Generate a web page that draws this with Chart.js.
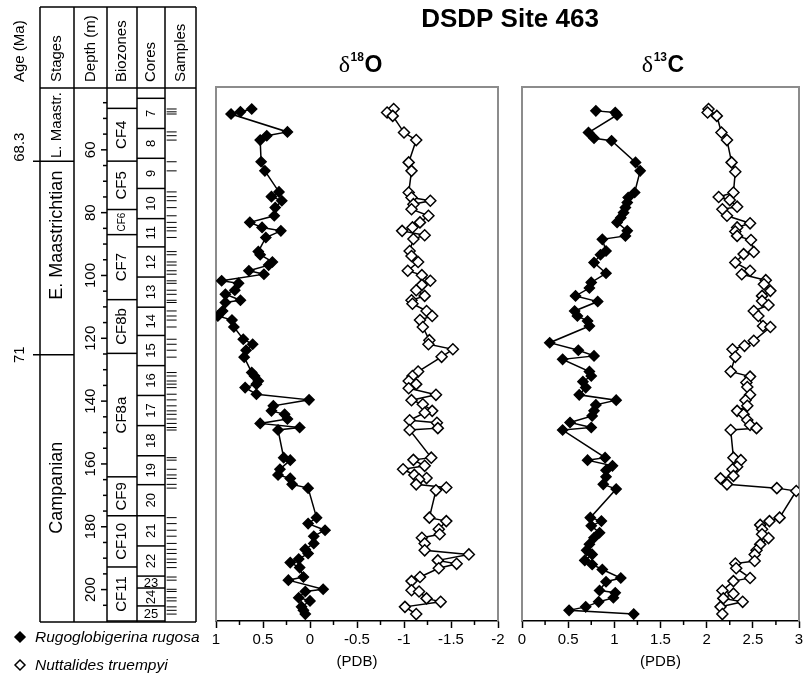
<!DOCTYPE html>
<html>
<head>
<meta charset="utf-8">
<script src="https://cdn.jsdelivr.net/npm/chart.js@4"></script>
<style>
  body { margin: 0; background: #fff; }
  #wrap { position: relative; width: 806px; height: 679px; }
  #wrap canvas { position: absolute; left: 0; top: 0; }
</style>
</head>
<body>
<div id="wrap">
  <canvas id="column" width="806" height="679"></canvas>
  <canvas id="chartO" width="806" height="679"></canvas>
  <canvas id="chartC" width="806" height="679"></canvas>
</div>
<script>
// depth (m) and isotope values
const rugO_depth = [47.0, 47.9, 48.6, 54.3, 55.5, 56.9, 63.8, 66.7, 73.4, 74.9, 76.2, 78.4, 81.0, 83.1, 84.7, 85.8, 87.9, 92.4, 93.4, 95.7, 96.7, 98.5, 99.6, 101.7, 102.5, 104.7, 106.0, 107.9, 108.6, 111.3, 112.9, 114.2, 116.4, 120.3, 121.9, 123.8, 126.0, 130.9, 132.0, 133.6, 134.6, 135.7, 137.8, 139.6, 141.5, 143.1, 144.2, 145.7, 147.1, 148.4, 149.2, 158.0, 158.8, 161.7, 163.5, 164.6, 166.5, 167.7, 177.1, 179.0, 181.1, 183.0, 185.3, 187.2, 188.5, 190.3, 191.4, 193.0, 196.0, 197.0, 199.9, 200.6, 202.6, 203.6, 205.5, 206.6, 207.8];
const rugO_val = [0.62, 0.74, 0.84, 0.24, 0.46, 0.53, 0.52, 0.48, 0.33, 0.41, 0.30, 0.37, 0.38, 0.64, 0.51, 0.31, 0.47, 0.55, 0.53, 0.40, 0.44, 0.65, 0.49, 0.94, 0.76, 0.80, 0.90, 0.74, 0.90, 0.93, 0.98, 0.83, 0.81, 0.71, 0.61, 0.68, 0.70, 0.62, 0.59, 0.55, 0.57, 0.69, 0.57, 0.01, 0.39, 0.41, 0.27, 0.24, 0.53, 0.11, 0.34, 0.28, 0.21, 0.32, 0.34, 0.21, 0.19, 0.02, -0.07, 0.02, -0.16, -0.04, -0.04, 0.05, 0.02, 0.12, 0.21, 0.11, 0.07, 0.23, -0.14, 0.05, 0.12, 0.00, 0.09, 0.07, 0.05];

const nutO_depth = [47.0, 48.1, 49.2, 54.5, 56.9, 64.0, 66.7, 73.6, 75.2, 76.2, 77.3, 78.9, 81.0, 83.1, 84.7, 85.8, 87.2, 88.4, 92.2, 93.8, 95.7, 98.5, 99.9, 101.7, 103.0, 104.7, 106.5, 107.9, 109.0, 111.3, 112.9, 114.2, 116.4, 120.6, 121.9, 123.5, 125.9, 130.6, 132.0, 133.6, 134.6, 135.9, 138.0, 139.7, 141.0, 143.1, 143.7, 146.1, 146.9, 148.6, 149.2, 158.0, 158.7, 160.6, 161.7, 163.5, 164.5, 164.9, 166.5, 167.5, 168.4, 177.1, 178.2, 180.8, 182.4, 183.5, 185.3, 187.5, 188.8, 190.7, 191.8, 193.2, 196.0, 197.3, 200.2, 200.6, 202.8, 203.9, 205.5, 207.8];
const nutO_val = [-0.89, -0.82, -0.88, -1.00, -1.13, -1.05, -1.08, -1.05, -1.08, -1.28, -1.10, -1.08, -1.26, -1.17, -1.09, -0.98, -1.22, -1.10, -1.06, -1.08, -1.15, -1.04, -1.19, -1.28, -1.19, -1.13, -1.22, -1.08, -1.09, -1.24, -1.30, -1.17, -1.20, -1.27, -1.26, -1.52, -1.40, -1.15, -1.09, -1.05, -1.13, -1.05, -1.34, -1.08, -1.20, -1.30, -1.22, -1.06, -1.35, -1.36, -1.06, -1.29, -1.10, -1.22, -0.99, -1.11, -1.24, -1.16, -1.13, -1.45, -1.34, -1.27, -1.45, -1.37, -1.38, -1.19, -1.22, -1.22, -1.69, -1.36, -1.56, -1.37, -1.17, -1.08, -1.08, -1.16, -1.24, -1.39, -1.01, -1.13];

const rugC_depth = [47.6, 48.1, 48.9, 54.5, 56.3, 57.1, 64.0, 66.7, 73.6, 75.2, 76.8, 78.4, 80.0, 81.6, 83.1, 85.8, 87.4, 88.5, 92.2, 93.4, 95.9, 99.3, 102.2, 104.0, 106.5, 108.3, 111.3, 112.9, 114.5, 116.1, 121.4, 123.8, 125.6, 126.7, 130.6, 132.0, 133.8, 135.7, 138.0, 139.7, 141.2, 143.1, 144.7, 146.8, 148.4, 149.2, 158.0, 158.8, 160.6, 162.0, 164.1, 166.5, 168.0, 177.1, 178.2, 179.7, 181.9, 183.5, 185.6, 187.5, 188.8, 190.7, 192.0, 193.6, 196.3, 197.5, 200.3, 201.0, 202.6, 203.9, 205.5, 206.6, 207.8];
const rugC_val = [0.80, 1.01, 1.03, 0.72, 0.78, 0.97, 1.23, 1.28, 1.22, 1.15, 1.14, 1.12, 1.10, 1.07, 1.03, 1.14, 1.12, 0.87, 0.91, 0.85, 0.78, 0.91, 0.75, 0.73, 0.58, 0.82, 0.57, 0.60, 0.71, 0.73, 0.30, 0.61, 0.78, 0.44, 0.73, 0.75, 0.66, 0.69, 0.62, 1.02, 0.80, 0.78, 0.76, 0.52, 0.75, 0.44, 0.90, 0.71, 0.98, 0.91, 0.91, 0.88, 1.02, 0.74, 0.86, 0.75, 0.84, 0.78, 0.73, 0.70, 0.76, 0.68, 0.76, 0.87, 1.07, 0.91, 0.84, 1.01, 0.99, 0.83, 0.69, 0.51, 1.21];

const nutC_depth = [47.0, 48.1, 49.2, 54.5, 56.9, 64.0, 67.0, 73.6, 75.0, 76.0, 78.1, 78.9, 81.0, 83.4, 84.7, 86.0, 87.4, 88.7, 92.5, 93.2, 95.9, 98.5, 99.6, 101.5, 102.8, 104.9, 106.5, 108.1, 109.4, 111.3, 112.9, 116.1, 116.4, 120.8, 122.4, 123.5, 125.9, 130.6, 132.2, 134.1, 135.5, 138.0, 139.7, 141.5, 143.1, 144.2, 146.0, 147.6, 148.6, 149.2, 158.0, 158.8, 160.9, 161.7, 163.8, 164.6, 166.5, 167.7, 168.6, 177.1, 178.2, 179.4, 180.8, 182.4, 183.6, 185.6, 187.5, 188.8, 190.9, 191.7, 193.2, 196.3, 197.3, 200.3, 201.3, 202.8, 203.9, 205.5, 207.8];
const nutC_val = [2.02, 2.01, 2.11, 2.16, 2.22, 2.27, 2.31, 2.29, 2.13, 2.25, 2.33, 2.17, 2.22, 2.47, 2.33, 2.31, 2.33, 2.48, 2.51, 2.40, 2.31, 2.47, 2.38, 2.64, 2.62, 2.69, 2.60, 2.60, 2.67, 2.51, 2.56, 2.61, 2.69, 2.51, 2.41, 2.28, 2.31, 2.26, 2.47, 2.43, 2.44, 2.47, 2.42, 2.44, 2.33, 2.40, 2.44, 2.47, 2.54, 2.26, 2.29, 2.37, 2.33, 2.28, 2.29, 2.15, 2.22, 2.76, 2.97, 2.79, 2.68, 2.58, 2.60, 2.60, 2.67, 2.58, 2.54, 2.52, 2.52, 2.31, 2.32, 2.47, 2.29, 2.17, 2.29, 2.18, 2.39, 2.15, 2.17];

// stratigraphy (depth boundaries in m)
const stageNames = ["L. Maastr.", "E. Maastrichtian", "Campanian"];
const stageBounds = [40, 63.6, 125.2, 210];
const ageLabels = ["68.3", "71"];
const ageDepths = [63.6, 125.2];
const zoneNames = ["CF4", "CF5", "CF6", "CF7", "CF8b", "CF8a", "CF9", "CF10", "CF11"];
const zoneBounds = [46.8, 63.6, 79, 87, 107.7, 124.8, 164.1, 176.5, 192.8, 210];
const coreNames = ["7", "8", "9", "10", "11", "12", "13", "14", "15", "16", "17", "18", "19", "20", "21", "22", "23", "24", "25"];
const coreBounds = [43.6, 53.2, 62.7, 72.3, 81.9, 90.9, 100.5, 110.1, 119.1, 128.7, 138.2, 147.8, 157.4, 166.6, 176.5, 186.1, 195.7, 199.5, 205.2, 210];
const depthLabels = [60, 80, 100, 120, 140, 160, 180, 200];
const minorO = [0.75, 0.25, -0.25, -0.75, -1.25, -1.75];
const minorC = [0.25, 0.75, 1.25, 1.75, 2.25, 2.75];

const FONT = '"Liberation Sans", Arial, Helvetica, sans-serif';
Chart.defaults.font.family = FONT;
Chart.defaults.color = "#000";

const colX = [40, 74, 107, 137, 165, 196];

function hline(ctx, x1, x2, y) { ctx.beginPath(); ctx.moveTo(x1, y); ctx.lineTo(x2, y); ctx.stroke(); }
function vline(ctx, x, y1, y2) { ctx.beginPath(); ctx.moveTo(x, y1); ctx.lineTo(x, y2); ctx.stroke(); }
function vtext(ctx, t, x, y, font, align) {
  ctx.save();
  ctx.translate(x, y);
  ctx.rotate(-Math.PI / 2);
  ctx.font = font;
  ctx.textAlign = align || "center";
  ctx.textBaseline = "middle";
  ctx.fillText(t, 0, 0);
  ctx.restore();
}
function diamond(ctx, x, y, r, fill) {
  ctx.beginPath();
  ctx.moveTo(x, y - r); ctx.lineTo(x + r, y); ctx.lineTo(x, y + r); ctx.lineTo(x - r, y); ctx.closePath();
  ctx.fillStyle = fill; ctx.fill();
  ctx.lineWidth = 1.5; ctx.strokeStyle = "#000"; ctx.stroke();
}

const columnPlugin = {
  id: "column",
  afterDraw(chart) {
    const ctx = chart.ctx;
    const Y = v => chart.scales.y.getPixelForValue(v);
    const top = 7, head = 88, bottom = Y(210) + 1;
    ctx.save();
    ctx.strokeStyle = "#000";
    ctx.fillStyle = "#000";
    ctx.lineWidth = 1.5;

    // table frame
    hline(ctx, colX[0], colX[5], top);
    hline(ctx, colX[0], colX[5], head);
    hline(ctx, colX[0], colX[5], bottom);
    colX.forEach(x => vline(ctx, x, top, bottom));

    // headers
    const hf = "15px " + FONT;
    vtext(ctx, "Age (Ma)", 20, 82, hf, "left");
    vtext(ctx, "Stages", 57, 82, hf, "left");
    vtext(ctx, "Depth (m)", 91, 82, hf, "left");
    vtext(ctx, "Biozones", 122, 82, hf, "left");
    vtext(ctx, "Cores", 151, 82, hf, "left");
    vtext(ctx, "Samples", 181, 82, hf, "left");

    // ages and stage boundaries
    ageDepths.forEach((d, i) => {
      hline(ctx, 33, colX[1], Y(d));
      vtext(ctx, ageLabels[i], 20, Y(d) - (i === 0 ? 14 : 0), "15px " + FONT);
    });
    vtext(ctx, stageNames[0], 57, (Y(stageBounds[0]) + Y(stageBounds[1])) / 2 + 1, "15px " + FONT);
    vtext(ctx, stageNames[1], 57, Y(stageBounds[1]) + 74, "18px " + FONT);
    vtext(ctx, stageNames[2], 57, (Y(stageBounds[2]) + Y(stageBounds[3])) / 2, "18px " + FONT);

    // depth ticks
    for (let d = 45; d <= 205; d += 5) {
      const len = d % 20 === 0 ? 6 : 4;
      hline(ctx, colX[2] - len, colX[2], Y(d));
    }
    depthLabels.forEach(d => vtext(ctx, String(d), 91, Y(d), "15px " + FONT));

    // biozones
    zoneBounds.forEach(d => hline(ctx, colX[2], colX[3], Y(d)));
    zoneNames.forEach((n, i) => {
      const c = (Y(zoneBounds[i]) + Y(zoneBounds[i + 1])) / 2;
      vtext(ctx, n, 122, c, (n === "CF6" ? "10px " : "15px ") + FONT);
    });

    // cores
    coreBounds.forEach(d => hline(ctx, colX[3], colX[4], Y(d)));
    coreNames.forEach((n, i) => {
      const y1 = Y(coreBounds[i]), y2 = Y(coreBounds[i + 1]);
      const c = (y1 + y2) / 2;
      if (y2 - y1 < 16) {
        ctx.font = "13px " + FONT;
        ctx.textAlign = "center";
        ctx.textBaseline = "middle";
        ctx.fillText(n, 151, c + 1);
      } else {
        vtext(ctx, n, 151, c, "13px " + FONT);
      }
    });

    // legend
    diamond(ctx, 20, 637, 5, "#000");
    diamond(ctx, 20, 665, 5, "#fff");
    ctx.fillStyle = "#000";
    ctx.font = "italic 15.5px " + FONT;
    ctx.textAlign = "left";
    ctx.textBaseline = "middle";
    ctx.fillText("Rugoglobigerina rugosa", 35, 638);
    ctx.fillText("Nuttalides truempyi", 35, 666);
    ctx.restore();
  }
};

new Chart(document.getElementById("column"), {
  type: "scatter",
  data: {
    datasets: [{
      label: "Samples",
      data: rugO_depth.map(d => ({ x: 170.5, y: d })),
      pointStyle: "line",
      pointRadius: 5,
      borderColor: "#000",
      borderWidth: 1
    }]
  },
  options: {
    responsive: false,
    animation: false,
    layout: { padding: { top: 87, bottom: 58, left: 0, right: 596 } },
    plugins: { legend: { display: false }, tooltip: { enabled: false } },
    scales: {
      x: { type: "linear", min: 0, max: 210, display: false },
      y: { type: "linear", min: 40, max: 210, reverse: true, display: false }
    }
  },
  plugins: [columnPlugin]
});

// frame, minor ticks and titles for the isotope panels
const panelPlugin = {
  id: "panel",
  beforeDatasetsDraw(chart) {
    const { left, right, top, bottom } = chart.chartArea;
    const ctx = chart.ctx;
    ctx.save();
    ctx.strokeStyle = "#8c8c8c";
    ctx.lineWidth = 2;
    ctx.beginPath();
    ctx.moveTo(left, bottom); ctx.lineTo(left, top); ctx.lineTo(right, top); ctx.lineTo(right, bottom);
    ctx.stroke();
    ctx.restore();
  },
  afterDraw(chart, args, opts) {
    const { left, right, bottom } = chart.chartArea;
    const ctx = chart.ctx;
    const xs = chart.scales.x;
    ctx.save();
    ctx.strokeStyle = "#000";
    ctx.lineWidth = 1.5;
    opts.minor.forEach(v => vline(ctx, xs.getPixelForValue(v), bottom, bottom + 4));

    // delta title with superscript
    const cx = (left + right) / 2 + opts.shift;
    const f1 = "24px \"Liberation Serif\", \"DejaVu Serif\", serif";
    const f2 = "bold 12px " + FONT;
    const f3 = "bold 23px " + FONT;
    ctx.font = f1; const w1 = ctx.measureText("\u03b4").width;
    ctx.font = f2; const w2 = ctx.measureText(opts.iso).width;
    ctx.font = f3; const w3 = ctx.measureText(opts.el).width;
    let x = cx - (w1 + w2 + w3) / 2;
    const base = 72;
    ctx.fillStyle = "#000";
    ctx.textAlign = "left";
    ctx.textBaseline = "alphabetic";
    ctx.font = f1; ctx.fillText("\u03b4", x, base); x += w1 + 0.5;
    ctx.font = f2; ctx.fillText(opts.iso, x, base - 11); x += w2 + 0.5;
    ctx.font = f3; ctx.fillText(opts.el, x, base);

    if (opts.main) {
      ctx.font = "bold 26px " + FONT;
      ctx.textAlign = "center";
      ctx.fillText("DSDP Site 463", 510, 27);
    }
    ctx.restore();
  }
};

function series(label, depth, vals, fill) {
  return {
    label: label,
    data: vals.map((v, i) => ({ x: v, y: depth[i] })),
    showLine: true,
    borderColor: "#000",
    borderWidth: 1.5,
    backgroundColor: fill,
    pointStyle: "rectRot",
    pointRadius: fill === "#000" ? 5 : 5.5,
    pointBackgroundColor: fill,
    pointBorderColor: "#000",
    pointBorderWidth: 1.5
  };
}

function panelOptions(min, max, reverse, padLeft, padRight, panelOpts) {
  return {
    responsive: false,
    animation: false,
    layout: { padding: { top: 87, bottom: 0, left: padLeft, right: padRight } },
    plugins: { legend: { display: false }, tooltip: { enabled: false }, panel: panelOpts },
    scales: {
      x: {
        type: "linear", min: min, max: max, reverse: reverse, position: "bottom",
        afterFit(s) { s.height = 58; s.paddingLeft = 0; s.paddingRight = 0; },
        grid: { drawOnChartArea: false, drawTicks: true, tickLength: 7, tickColor: "#000", tickWidth: 1.5 },
        border: { color: "#000", width: 1.5 },
        ticks: {
          stepSize: 0.5, color: "#000", font: { size: 15 }, padding: 3, maxRotation: 0, autoSkip: false,
          callback: v => String(Math.round(v * 100) / 100)
        },
        title: { display: true, text: "(PDB)", color: "#000", font: { size: 15 }, padding: { top: 0, bottom: 8 } }
      },
      y: { type: "linear", min: 40, max: 210, reverse: true, display: false }
    }
  };
}

new Chart(document.getElementById("chartO"), {
  type: "scatter",
  data: {
    datasets: [
      series("Rugoglobigerina rugosa", rugO_depth, rugO_val, "#000"),
      series("Nuttalides truempyi", nutO_depth, nutO_val, "#fff")
    ]
  },
  options: panelOptions(-2, 1, true, 216, 308, { minor: minorO, iso: "18", el: "O", shift: 3, main: true }),
  plugins: [panelPlugin]
});

new Chart(document.getElementById("chartC"), {
  type: "scatter",
  data: {
    datasets: [
      series("Rugoglobigerina rugosa", rugC_depth, rugC_val, "#000"),
      series("Nuttalides truempyi", nutC_depth, nutC_val, "#fff")
    ]
  },
  options: panelOptions(0, 3, false, 522, 4, { minor: minorC, iso: "13", el: "C", shift: 2, main: false }),
  plugins: [panelPlugin]
});
</script>
</body>
</html>
